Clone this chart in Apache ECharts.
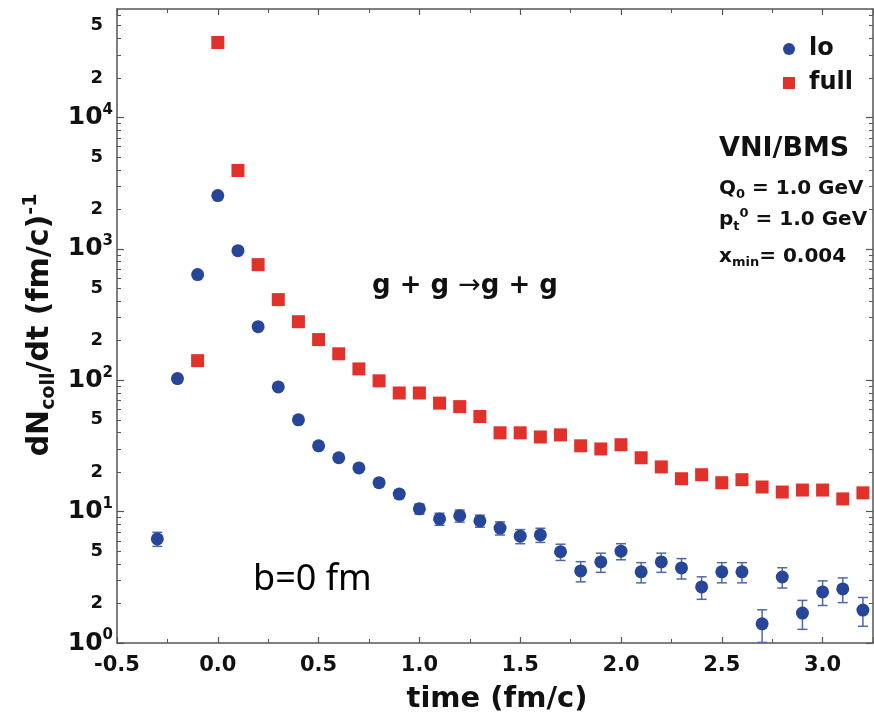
<!DOCTYPE html>
<html><head><meta charset="utf-8">
<script src="https://cdn.jsdelivr.net/npm/echarts@6/dist/echarts.min.js"></script>
<style>html,body{margin:0;padding:0;background:#fff}#c{width:874px;height:718px}</style>
</head><body><div id="c"></div>
<script>
// ---- data ----
const loTime = [-0.3,-0.2,-0.1,0.0,0.1,0.2,0.3,0.4,0.5,0.6,0.7,0.8,0.9,1.0,1.1,1.2,1.3,1.4,1.5,1.6,1.7,1.8,1.9,2.0,2.1,2.2,2.3,2.4,2.5,2.6,2.7,2.8,2.9,3.0,3.1,3.2];
const loValues = [6.2,103,637,2545,970,256,89,50,31.7,25.7,21.5,16.6,13.6,10.5,8.8,9.3,8.5,7.5,6.5,6.65,4.95,3.54,4.14,5.0,3.48,4.14,3.73,2.67,3.48,3.48,1.40,3.18,1.69,2.45,2.58,1.78];
const loErrors = [0.76,3,8,16,10,5,3,2,1.6,1.4,1.3,1.1,1.0,0.92,0.92,0.98,0.89,0.86,0.80,0.82,0.70,0.62,0.69,0.70,0.61,0.69,0.66,0.52,0.61,0.61,0.39,0.56,0.42,0.52,0.55,0.44];
const fullTime = [-0.1,0.0,0.1,0.2,0.3,0.4,0.5,0.6,0.7,0.8,0.9,1.0,1.1,1.2,1.3,1.4,1.5,1.6,1.7,1.8,1.9,2.0,2.1,2.2,2.3,2.4,2.5,2.6,2.7,2.8,2.9,3.0,3.1,3.2];
const fullValues = [141,37240,3950,759,411,279,204,159,122,99,80,80,67,63,53,39.8,39.8,37,38.4,31.7,30,32.3,25.7,21.9,17.8,19.1,16.6,17.5,15.4,14.1,14.6,14.6,12.5,13.9];
const xTickLabels = ['-0.5','0.0','0.5','1.0','1.5','2.0','2.5','3.0'];
const yMajorTicks = [1,10,100,1000,10000];
const yLabelValues = [1,2,5,10,20,50,100,200,500,1000,2000,5000,10000,20000,50000];
const yMinorTicks = [2,3,4,5,6,7,8,9,20,30,40,50,60,70,80,90,200,300,400,500,600,700,800,900,2000,3000,4000,5000,6000,7000,8000,9000,20000,30000,40000,50000,60000];
const seriesNames = ['lo','full'];

const FONT = 'DejaVu Sans';
const AX = '#555';
const BLUE = '#27469a', RED = '#e2302a', ERR = '#5068aa';
const YMIN = 1, YMAX = 67000, XMIN = -0.5, XMAX = 3.25;

const chart = echarts.init(document.getElementById('c'), null, {renderer: 'canvas'});

function yFmt(v) {
  const e = Math.round(Math.log10(v));
  if (Math.abs(v - Math.pow(10, e)) < 1e-6 * v) return '{b|10}{s|' + e + '}';
  const d = Math.round(v / Math.pow(10, Math.floor(Math.log10(v) + 1e-9)));
  return '{d|' + d + '}';
}

const yCommon = {type: 'log', logBase: 10, min: YMIN, max: YMAX, splitLine: {show: false}};
const xCommon = {type: 'value', min: XMIN, max: XMAX, interval: 0.5, splitLine: {show: false}};

chart.setOption({
  animation: false,
  backgroundColor: '#fff',
  grid: {left: 117, right: 1, top: 9, bottom: 75, containLabel: false},
  legend: {
    orient: 'vertical', left: 778, top: 32, itemWidth: 12, itemHeight: 12, itemGap: 10,
    data: seriesNames,
    textStyle: {fontFamily: FONT, fontWeight: 'bold', fontSize: 24, color: '#111', lineHeight: 24, padding: [0, 0, 0, 9]}
  },
  xAxis: [
    Object.assign({}, xCommon, {
      position: 'bottom',
      axisLine: {onZero: false, lineStyle: {color: AX, width: 1.5}},
      axisTick: {inside: true, length: 6, lineStyle: {color: AX, width: 1.2}},
      minorTick: {show: true, splitNumber: 2, length: 4, lineStyle: {color: AX, width: 1}},
      axisLabel: {
        margin: 12, showMaxLabel: false, color: '#111', fontFamily: FONT, fontWeight: 'bold', fontSize: 21,
        formatter: function (v) {
          const s = v.toFixed(1);
          return xTickLabels.indexOf(s) >= 0 ? s : '';
        }
      }
    }),
    Object.assign({}, xCommon, {
      position: 'top',
      axisLine: {onZero: false, lineStyle: {color: AX, width: 1.5}},
      axisTick: {inside: true, length: 6, lineStyle: {color: AX, width: 1.2}},
      minorTick: {show: true, splitNumber: 2, length: 4, lineStyle: {color: AX, width: 1}},
      axisLabel: {show: false}
    })
  ],
  yAxis: [
    Object.assign({}, yCommon, {
      position: 'left',
      axisLine: {show: true, onZero: false, lineStyle: {color: AX, width: 1.5}},
      axisTick: {show: true, inside: true, length: 7, customValues: yMajorTicks, lineStyle: {color: AX, width: 1.2}},
      axisLabel: {
        customValues: yLabelValues, margin: 4, formatter: yFmt,
        rich: {
          b: {fontFamily: FONT, fontWeight: 'bold', fontSize: 25, lineHeight: 30, color: '#111'},
          s: {fontFamily: FONT, fontWeight: 'bold', fontSize: 15, lineHeight: 15, verticalAlign: 'top', color: '#111'},
          d: {fontFamily: FONT, fontWeight: 'bold', fontSize: 18, lineHeight: 22, color: '#111', padding: [0, 10, 0, 0]}
        }
      }
    }),
    Object.assign({}, yCommon, {
      position: 'left',
      axisLine: {show: false, onZero: false},
      axisTick: {show: true, inside: true, length: 4, customValues: yMinorTicks, lineStyle: {color: AX, width: 1}},
      axisLabel: {show: false}
    }),
    Object.assign({}, yCommon, {
      position: 'right',
      axisLine: {show: true, onZero: false, lineStyle: {color: AX, width: 1.5}},
      axisTick: {show: true, inside: true, length: 7, customValues: yMajorTicks, lineStyle: {color: AX, width: 1.2}},
      axisLabel: {show: false}
    }),
    Object.assign({}, yCommon, {
      position: 'right',
      axisLine: {show: false, onZero: false},
      axisTick: {show: true, inside: true, length: 4, customValues: yMinorTicks, lineStyle: {color: AX, width: 1}},
      axisLabel: {show: false}
    })
  ],
  series: [
    {
      name: 'loErr', type: 'custom', xAxisIndex: 0, yAxisIndex: 0, z: 1,
      data: loTime.map((t, i) => [t, loValues[i], loErrors[i]]),
      encode: {x: 0, y: 1},
      renderItem: function (params, api) {
        const x = api.value(0), y = api.value(1), e = api.value(2);
        const top = api.coord([x, y + e]);
        const bot = api.coord([x, y - e]);
        const hw = 5;
        const st = {stroke: ERR, lineWidth: 1.5};
        return {type: 'group', children: [
          {type: 'line', shape: {x1: top[0], y1: top[1], x2: bot[0], y2: bot[1]}, style: st},
          {type: 'line', shape: {x1: top[0] - hw, y1: top[1], x2: top[0] + hw, y2: top[1]}, style: st},
          {type: 'line', shape: {x1: bot[0] - hw, y1: bot[1], x2: bot[0] + hw, y2: bot[1]}, style: st}
        ]};
      }
    },
    {
      name: 'lo', type: 'scatter', xAxisIndex: 0, yAxisIndex: 0, z: 3,
      symbol: 'circle', symbolSize: 13,
      itemStyle: {color: BLUE, opacity: 1},
      data: loTime.map((t, i) => [t, loValues[i]])
    },
    {
      name: 'full', type: 'scatter', xAxisIndex: 0, yAxisIndex: 0, z: 3,
      symbol: 'rect', symbolSize: 13,
      itemStyle: {color: RED, opacity: 1},
      data: fullTime.map((t, i) => [t, fullValues[i]])
    }
  ],
  graphic: [
    {type: 'text', z: 10, x: 40, y: 325, rotation: Math.PI / 2,
      style: {text: '{a|dN}{s|coll}{a|/dt (fm/c)}{p|-1}', align: 'center', verticalAlign: 'middle',
        rich: {
          a: {fontFamily: FONT, fontWeight: 'bold', fontSize: 30, lineHeight: 37, fill: '#111'},
          s: {fontFamily: FONT, fontWeight: 'bold', fontSize: 19, lineHeight: 19, verticalAlign: 'bottom', fill: '#111'},
          p: {fontFamily: FONT, fontWeight: 'bold', fontSize: 19, lineHeight: 19, verticalAlign: 'top', fill: '#111'}
        }}},
    {type: 'text', z: 10, x: 497, y: 699,
      style: {text: 'time (fm/c)', font: 'bold 29px "DejaVu Sans"', fill: '#111', align: 'center', verticalAlign: 'middle'}},
    {type: 'text', z: 10, x: 465, y: 286,
      style: {text: '{a|g + g }{r|\u2192}{a|g + g}', align: 'center', verticalAlign: 'middle',
        rich: {
          a: {fontFamily: FONT, fontWeight: 'bold', fontSize: 26, lineHeight: 30, fill: '#111'},
          r: {fontFamily: FONT, fontWeight: 'normal', fontSize: 27, lineHeight: 30, fill: '#111'}
        }}},
    {type: 'text', z: 10, x: 253, y: 580,
      style: {text: 'b=0 fm', font: '36px "Noto Sans"', fill: '#000', align: 'left', verticalAlign: 'middle'}},
    {type: 'text', z: 10, x: 719, y: 149,
      style: {text: 'VNI/BMS', font: 'bold 27px "DejaVu Sans"', fill: '#111', align: 'left', verticalAlign: 'middle'}},
    {type: 'text', z: 10, x: 719, y: 189,
      style: {text: '{m|Q}{s|0}{m| = 1.0 GeV}', align: 'left', verticalAlign: 'middle',
        rich: {
          m: {fontFamily: FONT, fontWeight: 'bold', fontSize: 20, lineHeight: 24, fill: '#111'},
          s: {fontFamily: FONT, fontWeight: 'bold', fontSize: 13, lineHeight: 13, verticalAlign: 'bottom', fill: '#111'}
        }}},
    {type: 'text', z: 10, x: 719, y: 220,
      style: {text: '{m|p}{s|t}{p|0}{m| = 1.0 GeV}', align: 'left', verticalAlign: 'middle',
        rich: {
          m: {fontFamily: FONT, fontWeight: 'bold', fontSize: 20, lineHeight: 26, fill: '#111'},
          s: {fontFamily: FONT, fontWeight: 'bold', fontSize: 13, lineHeight: 13, verticalAlign: 'bottom', fill: '#111'},
          p: {fontFamily: FONT, fontWeight: 'bold', fontSize: 13, lineHeight: 13, verticalAlign: 'top', fill: '#111'}
        }}},
    {type: 'text', z: 10, x: 719, y: 257,
      style: {text: '{m|x}{s|min}{m|= 0.004}', align: 'left', verticalAlign: 'middle',
        rich: {
          m: {fontFamily: FONT, fontWeight: 'bold', fontSize: 20, lineHeight: 24, fill: '#111'},
          s: {fontFamily: FONT, fontWeight: 'bold', fontSize: 13, lineHeight: 13, verticalAlign: 'bottom', fill: '#111'}
        }}}
  ]
});
</script></body></html>
